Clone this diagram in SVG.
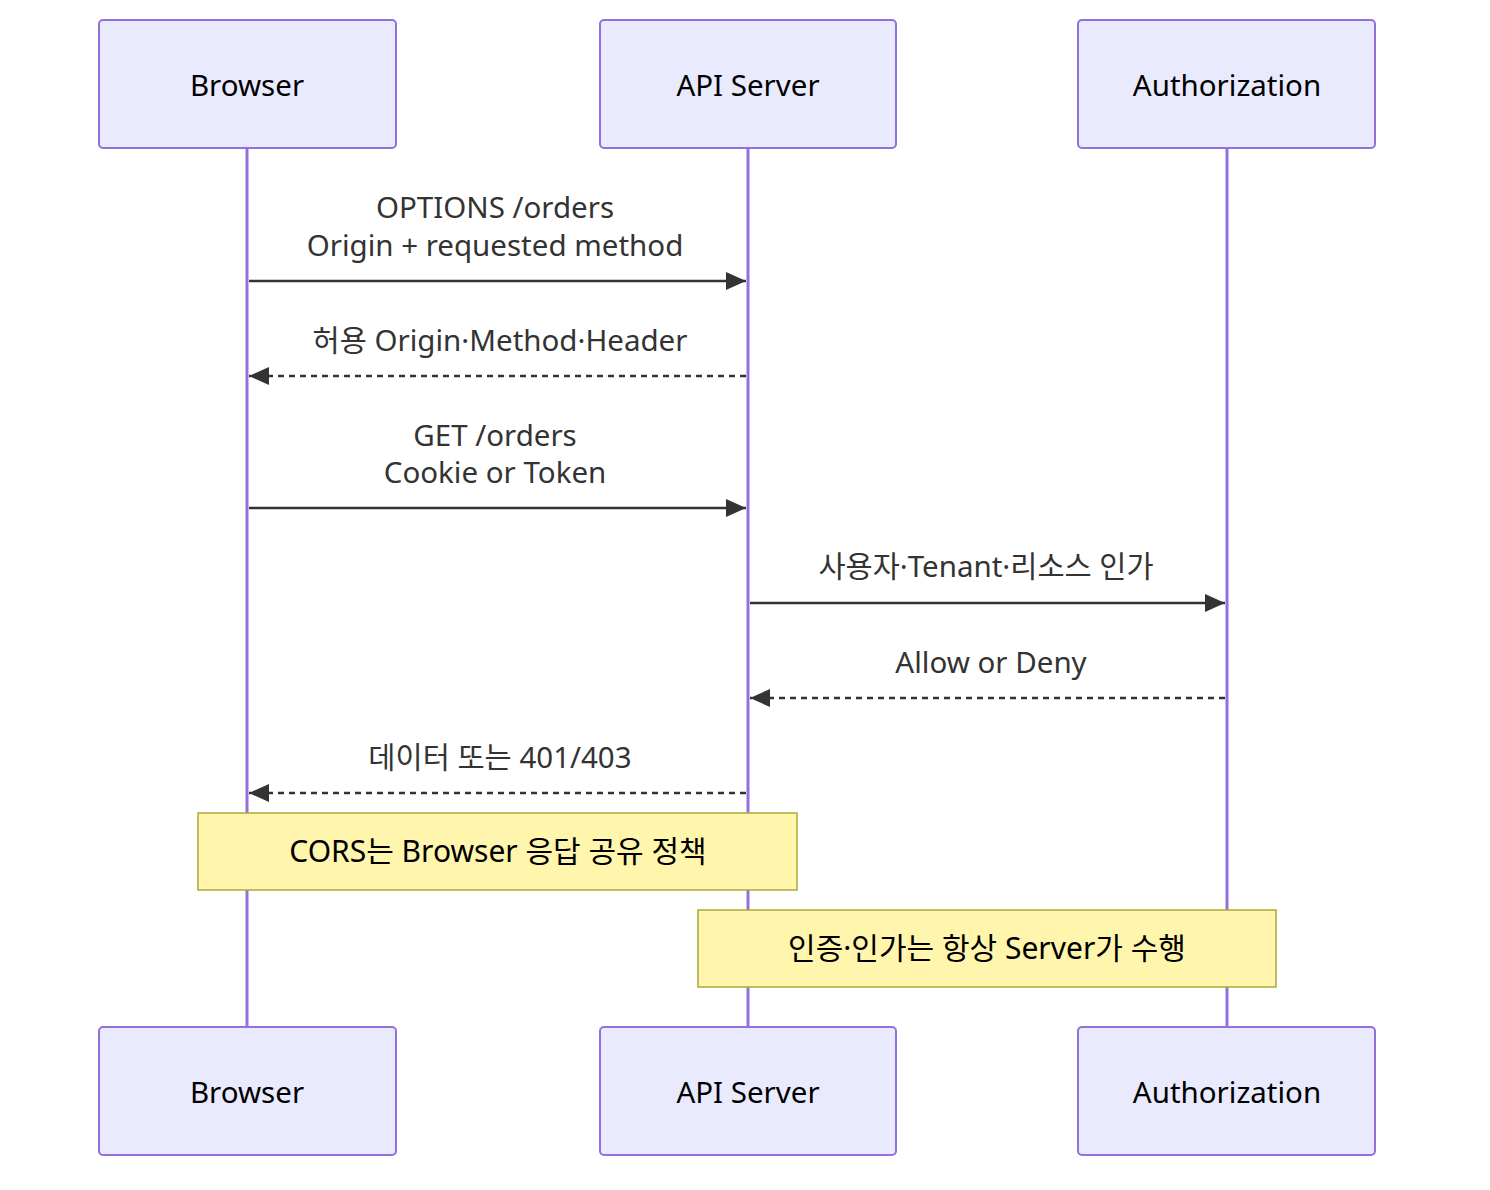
<svg xmlns="http://www.w3.org/2000/svg" width="1490" height="1190" viewBox="0 0 1490 1190">
<style>
.actor{fill:#eaeaff;stroke:#9370db;stroke-width:2}
.atext{font-family:"Noto Sans","Noto Sans CJK KR",sans-serif;font-size:29.5px;fill:#000;text-anchor:middle;dominant-baseline:central}
.life{stroke:#9370db;stroke-width:3}
.msg{stroke:#333;stroke-width:2.5;fill:none}
.dash{stroke-dasharray:6,5}
.mtext{font-family:"Noto Sans","Noto Sans CJK KR",sans-serif;font-size:29.5px;fill:#333;text-anchor:middle;dominant-baseline:central}
.note{fill:#fff5ad;stroke:#aaaa33;stroke-width:1.5}
.ntext{font-family:"Noto Sans","Noto Sans CJK KR",sans-serif;font-size:30px;fill:#000;text-anchor:middle;dominant-baseline:central}
</style>
<defs>
<marker id="ah" viewBox="0 0 20 18" refX="20" refY="9" markerWidth="20" markerHeight="18" markerUnits="userSpaceOnUse" orient="auto">
<path d="M0,0 L20,9 L0,18 z" fill="#333"/>
</marker>
</defs>
<rect width="1490" height="1190" fill="#fff"/>
<g id="lifelines">
<line class="life" x1="247" y1="148" x2="247" y2="1027"/>
<line class="life" x1="748" y1="148" x2="748" y2="1027"/>
<line class="life" x1="1227" y1="148" x2="1227" y2="1027"/>
</g>
<g id="browser-top"><rect class="actor" x="99" y="20" width="297" height="128" rx="4"/><text class="atext" x="247" y="84">Browser</text></g>
<g id="api-top"><rect class="actor" x="600" y="20" width="296" height="128" rx="4"/><text class="atext" x="748" y="84">API Server</text></g>
<g id="auth-top"><rect class="actor" x="1078" y="20" width="297" height="128" rx="4"/><text class="atext" x="1227" y="84">Authorization</text></g>
<g id="browser-bottom"><rect class="actor" x="99" y="1027" width="297" height="128" rx="4"/><text class="atext" x="247" y="1091">Browser</text></g>
<g id="api-bottom"><rect class="actor" x="600" y="1027" width="296" height="128" rx="4"/><text class="atext" x="748" y="1091">API Server</text></g>
<g id="auth-bottom"><rect class="actor" x="1078" y="1027" width="297" height="128" rx="4"/><text class="atext" x="1227" y="1091">Authorization</text></g>
<g id="connectors">
<line class="msg" x1="249" y1="281" x2="746" y2="281" marker-end="url(#ah)"/>
<text class="mtext" x="495" y="206">OPTIONS /orders</text>
<text class="mtext" x="495" y="244">Origin + requested method</text>
<line class="msg dash" x1="746" y1="376" x2="249" y2="376" marker-end="url(#ah)"/>
<text class="mtext" x="500" y="339">허용 Origin·Method·Header</text>
<line class="msg" x1="249" y1="508" x2="746" y2="508" marker-end="url(#ah)"/>
<text class="mtext" x="495" y="434">GET /orders</text>
<text class="mtext" x="495" y="471">Cookie or Token</text>
<line class="msg" x1="750" y1="603" x2="1225" y2="603" marker-end="url(#ah)"/>
<text class="mtext" x="986" y="565">사용자·Tenant·리소스 인가</text>
<line class="msg dash" x1="1225" y1="698" x2="750" y2="698" marker-end="url(#ah)"/>
<text class="mtext" x="991" y="661">Allow or Deny</text>
<line class="msg dash" x1="746" y1="793" x2="249" y2="793" marker-end="url(#ah)"/>
<text class="mtext" x="500" y="756">데이터 또는 401/403</text>
</g>
<g id="note-cors"><rect class="note" x="198" y="813" width="599" height="77"/><text class="ntext" x="498" y="850">CORS는 Browser 응답 공유 정책</text></g>
<g id="note-auth"><rect class="note" x="698" y="910" width="578" height="77"/><text class="ntext" x="987" y="947">인증·인가는 항상 Server가 수행</text></g>
</svg>
